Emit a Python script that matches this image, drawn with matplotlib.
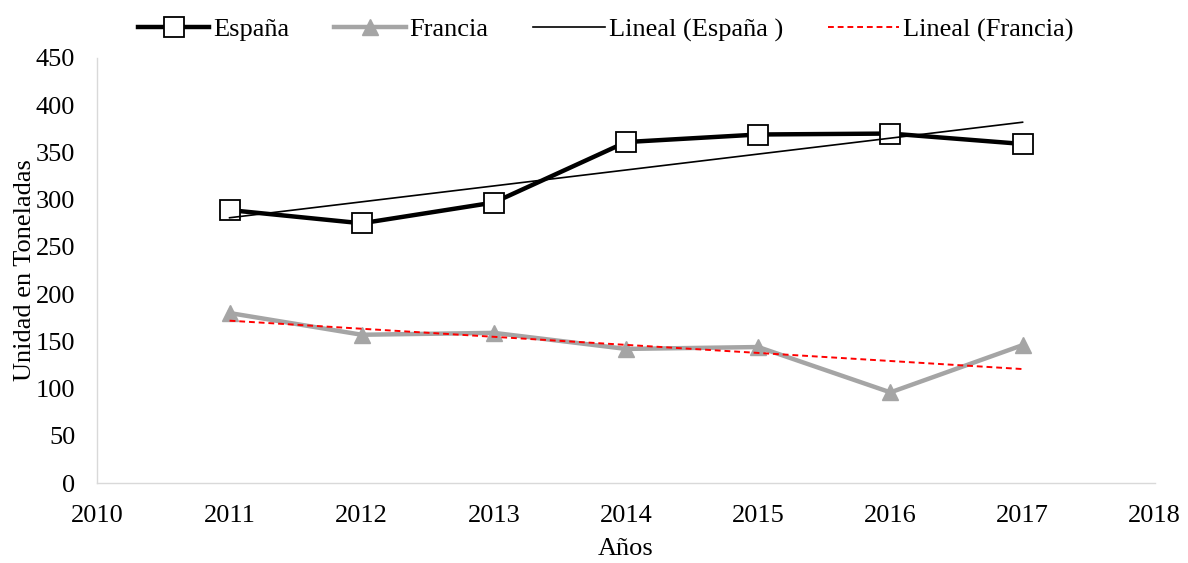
import numpy as np
import matplotlib.pyplot as plt

years = [2011, 2012, 2013, 2014, 2015, 2016, 2017]
espana = [289, 275, 297, 361, 369, 370, 359]
francia = [180, 157, 159, 142, 144, 96, 146]

plt.rcParams['font.family'] = ['Liberation Serif', 'DejaVu Serif']
fs = 19

fig = plt.figure(figsize=(11.88, 5.63), dpi=100)
ax = fig.add_axes([0.082, 0.142, 0.89, 0.755])

ax.plot(years, espana, color="black", lw=3.2, marker="s", markersize=15,
        markerfacecolor="white", markeredgecolor="black", markeredgewidth=1.3,
        label="España")
ax.plot(years, francia, color="#a5a5a5", lw=3.2, marker="^", markersize=12,
        markerfacecolor="#a5a5a5", markeredgecolor="#a5a5a5", label="Francia")

# linear trend lines
x = np.array(years, dtype=float)
p_es = np.polyfit(x, espana, 1)
p_fr = np.polyfit(x, francia, 1)
ax.plot(x, np.polyval(p_es, x), color="black", lw=1.2, label="Lineal (España )")
ax.plot(x, np.polyval(p_fr, x), color="red", lw=1.4, ls=(0, (3, 2)),
        label="Lineal (Francia)")

ax.set_xlim(2010, 2018)
ax.set_ylim(0, 450)
ax.set_xticks(range(2010, 2019))
ax.set_yticks(range(0, 451, 50))
ax.tick_params(length=0, labelsize=fs)
ax.tick_params(axis="x", pad=16)
ax.tick_params(axis="y", pad=16)

for s in ["top", "right"]:
    ax.spines[s].set_visible(False)
for s in ["left", "bottom"]:
    ax.spines[s].set_color("#d9d9d9")
    ax.spines[s].set_linewidth(1)

ax.set_xlabel("Años", fontsize=fs, labelpad=8)
ax.set_ylabel("Unidad en Toneladas", fontsize=fs, labelpad=0)

fig.legend(loc="center", bbox_to_anchor=(0.51, 0.947), ncol=4, frameon=False,
           fontsize=fs, handlelength=2.7, columnspacing=1.7, handletextpad=0.15)

fig.savefig("out.png", dpi=100)
